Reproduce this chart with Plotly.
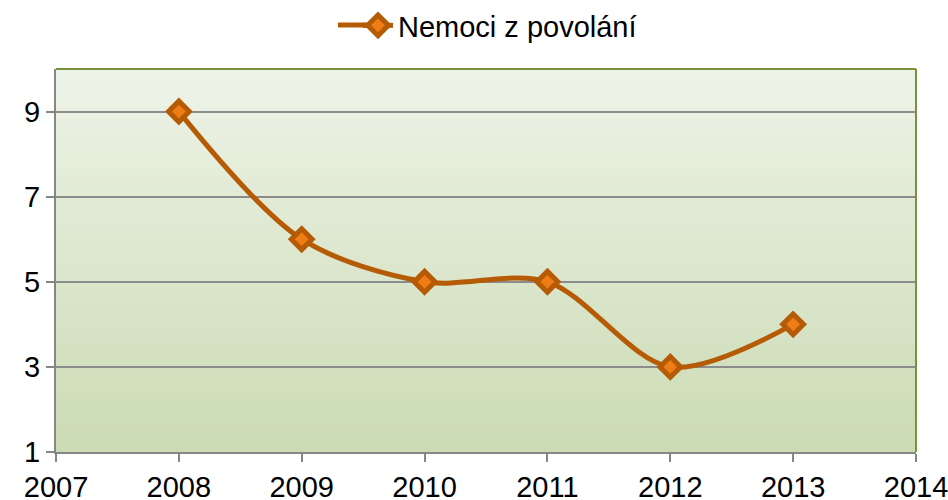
import plotly.graph_objects as go

years = [2008, 2009, 2010, 2011, 2012, 2013]
values = [9, 6, 5, 5, 3, 4]
series_name = "Nemoci z povolání"
x_ticks = [2007, 2008, 2009, 2010, 2011, 2012, 2013, 2014]
y_ticks = [1, 3, 5, 7, 9]

LINE = "#b65b05"
FILL = "#ef7d16"

fig = go.Figure()
fig.add_trace(go.Scatter(
    x=years, y=values, name=series_name, mode="lines+markers",
    line=dict(color=LINE, width=5, shape="spline", smoothing=0.9),
    marker=dict(symbol="diamond", size=16, color=FILL, line=dict(color=LINE, width=5)),
))

# gradient background for plot area
top = (0xee, 0xf3, 0xe8)
bot = (0xcb, 0xdb, 0xb4)
n = 60
shapes = []
for i in range(n):
    t = (i + 0.5) / n
    c = tuple(round(top[k] + (bot[k] - top[k]) * t) for k in range(3))
    shapes.append(dict(type="rect", xref="x domain", yref="y domain",
                       x0=0, x1=1, y0=1 - (i + 1) / n, y1=1 - i / n + 0.002,
                       fillcolor="rgb(%d,%d,%d)" % c, line=dict(width=0), layer="below"))
# green top and right border
shapes.append(dict(type="line", xref="x domain", yref="y domain", x0=0, x1=1, y0=1, y1=1,
                   line=dict(color="#77933c", width=2), layer="above"))
shapes.append(dict(type="line", xref="x domain", yref="y domain", x0=1, x1=1, y0=0, y1=1,
                   line=dict(color="#77933c", width=2), layer="above"))
# longer legend line segment (left part of the legend key)
shapes.append(dict(type="line", xref="paper", yref="paper", x0=0.3279, x1=0.362,
                   y0=1.1149, y1=1.1149, line=dict(color=LINE, width=5), layer="above"))

fig.update_layout(
    width=948, height=500,
    margin=dict(l=56, r=32, t=69, b=48, autoexpand=False),
    paper_bgcolor="white", plot_bgcolor="white",
    font=dict(family="Liberation Sans, Arial, sans-serif", size=29, color="black"),
    showlegend=True,
    legend=dict(orientation="h", x=0.5 + 26 / 948, xanchor="center", y=1.0, yanchor="top",
                xref="container", yref="container", font=dict(size=29),
                bgcolor="rgba(0,0,0,0)"),
    shapes=shapes,
)
fig.update_xaxes(range=[2007, 2014], tickvals=x_ticks, ticktext=[str(v) for v in x_ticks],
                 automargin=False, ticklabeloverflow="allow",
                 showgrid=False, zeroline=False, showline=True, linecolor="#868686", linewidth=2,
                 ticks="outside", ticklen=8, tickwidth=2, tickcolor="#868686")
fig.update_yaxes(range=[1, 10], tickvals=y_ticks, showgrid=True, gridcolor="#8c8c8c", gridwidth=2,
                 automargin=False, ticklabeloverflow="allow",
                 zeroline=False, showline=True, linecolor="#868686", linewidth=2,
                 ticks="outside", ticklen=8, tickwidth=2, tickcolor="#868686")

fig.write_html("out.html", config={"displayModeBar": False},
               post_script="document.body.style.margin='0';document.body.style.overflow='hidden';")
